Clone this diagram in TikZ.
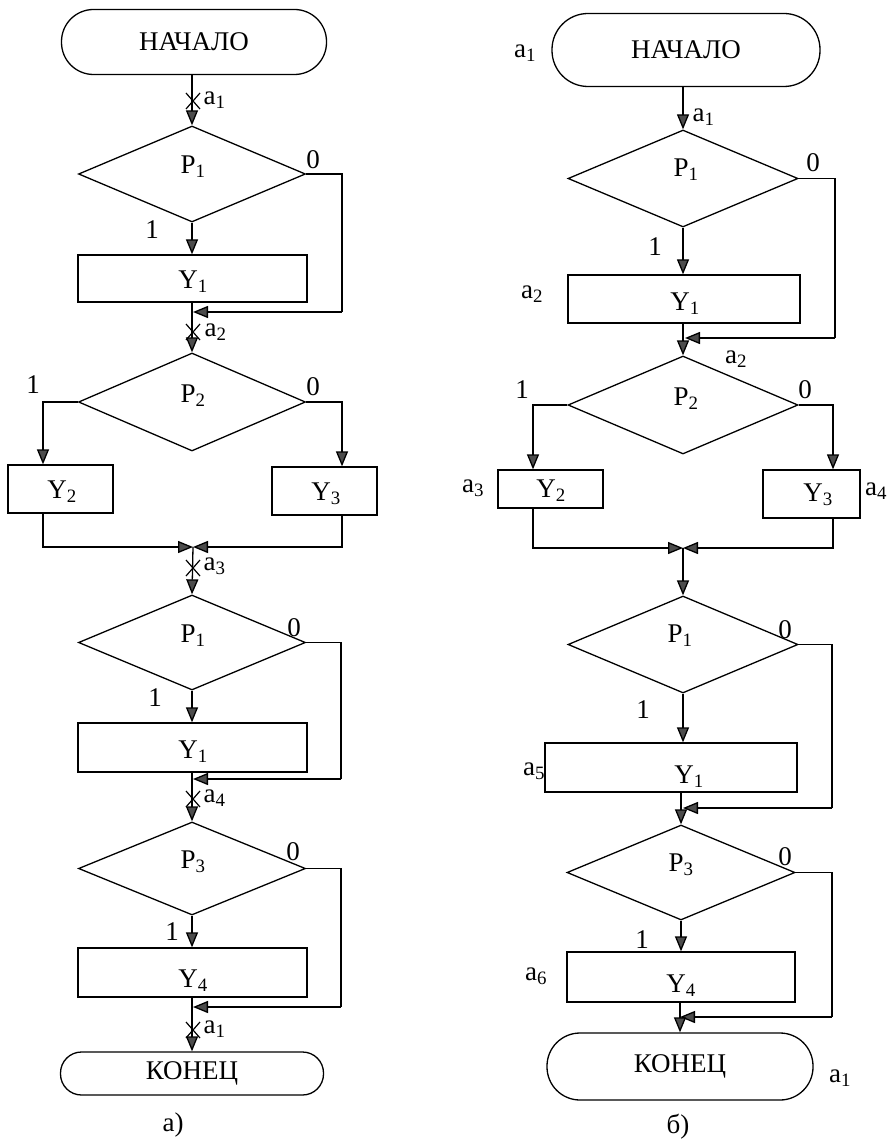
\documentclass[tikz,border=0pt]{standalone}
\usepackage{fontspec}
\setmainfont{Liberation Serif}
\usetikzlibrary{arrows.meta,shapes.geometric,calc}
\newcommand\lsub[1]{\textsubscript{#1}}
\begin{document}
\begin{tikzpicture}[x=1pt,y=-1pt,line width=1.3pt,
  every node/.style={font=\fontsize{27}{30}\selectfont},
  term/.style={draw,rectangle,rounded corners=#1,inner sep=0pt},
  blk/.style={draw,rectangle,inner sep=0pt},
  dia/.style={draw,diamond,inner sep=0pt},
  lbl/.style={inner sep=0pt},
  mk/.style={inner sep=0pt,anchor=west},
  arr/.style={-{Triangle[length=15pt,width=12pt,fill=black!70]}},
  xmark/.pic={\draw[line width=1.2pt] (-7,-8)--(7,8) (-7,8)--(7,-8);}]
\useasboundingbox (0,0) rectangle (890,1139);

% ---------------- left chart (a) ----------------
\node[term=32pt,minimum width=265pt,minimum height=65pt] (sL) at (194,42) {НАЧАЛО};
\node[dia,minimum width=227pt,minimum height=96pt] (pL1) at (192,174) {};
\node[blk,minimum width=229pt,minimum height=47pt] (yL1) at (192.5,278.5) {};
\node[dia,minimum width=227pt,minimum height=98pt] (pL2) at (192,402) {};
\node[blk,minimum width=105pt,minimum height=48pt] (yL2) at (60.5,489) {};
\node[blk,minimum width=105pt,minimum height=48pt] (yL3) at (324.5,491) {};
\node[dia,minimum width=227pt,minimum height=95pt] (pL3) at (192,642.5) {};
\node[blk,minimum width=229pt,minimum height=49pt] (yL4) at (192.5,747.5) {};
\node[dia,minimum width=227pt,minimum height=93pt] (pL4) at (192,868.5) {};
\node[blk,minimum width=229pt,minimum height=49pt] (yL5) at (192.5,972.5) {};
\node[term=21pt,minimum width=263pt,minimum height=43pt] (eL) at (192,1073.5) {КОНЕЦ};

\node[lbl] (tpL1) at (193,167) {P\lsub{1}};
\node[lbl] (tpL2) at (193,396) {P\lsub{2}};
\node[lbl] (tpL3) at (193,636) {P\lsub{1}};
\node[lbl] (tpL4) at (193,862) {P\lsub{3}};
\node[lbl] (tyL1) at (193,282) {Y\lsub{1}};
\node[lbl] (tyL2) at (62,492) {Y\lsub{2}};
\node[lbl] (tyL3) at (326,494) {Y\lsub{3}};
\node[lbl] (tyL4) at (193,752) {Y\lsub{1}};
\node[lbl] (tyL5) at (193,981) {Y\lsub{4}};

\node[lbl] (zL1) at (313,160) {0};
\node[lbl] (oL1) at (152,230) {1};
\node[lbl] (oL2) at (33,385) {1};
\node[lbl] (zL2) at (313,387) {0};
\node[lbl] (zL3) at (294,628) {0};
\node[lbl] (oL3) at (155,698) {1};
\node[lbl] (zL4) at (293,852) {0};
\node[lbl] (oL4) at (172,932) {1};
\node[lbl] (capL) at (173,1125) {а)};

\coordinate (jL1) at (193,312);
\coordinate (cL1) at (342,312);
\coordinate (kL) at (43,0);
\coordinate (mL) at (193,547);
\coordinate (jL3) at (193,779);
\coordinate (cL3) at (341,779);
\coordinate (jL4) at (193,1007);
\coordinate (cL4) at (341,1007);

\draw[arr] (sL.south -| pL1.north) -- (pL1.north);
\draw[arr] (pL1.south) -- (yL1.north -| pL1.south);
\draw (pL1.east) -| (cL1);
\draw[arr] (cL1) -- (jL1);
\draw[arr] (yL1.south -| pL2.north) -- (pL2.north);
\draw[arr] (pL2.west) -| (yL2.north -| kL);
\draw[arr] (pL2.east) -| (yL3.north -| cL1);
\draw[arr] (yL2.south -| kL) |- (mL);
\draw[arr] (yL3.south -| cL1) |- (mL);
\draw[arr] (mL) -- (pL3.north);
\draw[arr] (pL3.south) -- (yL4.north -| pL3.south);
\draw (pL3.east) -| (cL3);
\draw[arr] (cL3) -- (jL3);
\draw[arr] (yL4.south -| pL4.north) -- (pL4.north);
\draw[arr] (pL4.south) -- (yL5.north -| pL4.south);
\draw (pL4.east) -| (cL4);
\draw[arr] (cL4) -- (jL4);
\draw[arr] (yL5.south -| eL.north) -- (eL.north);

\pic at (193,101) {xmark};
\pic at (193,332) {xmark};
\pic at (193,568) {xmark};
\pic at (193,799) {xmark};
\pic at (193,1030) {xmark};
\node[mk] (aL1) at (203,100) {a\lsub{1}};
\node[mk] (aL2) at (204,332) {a\lsub{2}};
\node[mk] (aL3) at (203,566) {a\lsub{3}};
\node[mk] (aL4) at (203,798) {a\lsub{4}};
\node[mk] (aL5) at (203,1029) {a\lsub{1}};

% ---------------- right chart (b) ----------------
\node[term=36pt,minimum width=268pt,minimum height=73pt] (sR) at (686,50) {НАЧАЛО};
\node[dia,minimum width=230pt,minimum height=97pt] (pR1) at (683,178.5) {};
\node[blk,minimum width=232pt,minimum height=48pt] (yR1) at (684,299) {};
\node[dia,minimum width=230pt,minimum height=98pt] (pR2) at (683,405) {};
\node[blk,minimum width=105pt,minimum height=38pt] (yR2) at (550.5,489) {};
\node[blk,minimum width=97pt,minimum height=48pt] (yR3) at (811.5,494) {};
\node[dia,minimum width=230pt,minimum height=97pt] (pR3) at (683,644.5) {};
\node[blk,minimum width=252pt,minimum height=49pt] (yR4) at (671,767.5) {};
\node[dia,minimum width=228pt,minimum height=95pt] (pR4) at (681,872.5) {};
\node[blk,minimum width=228pt,minimum height=50pt] (yR5) at (681,977) {};
\node[term=33pt,minimum width=266pt,minimum height=67pt] (eR) at (680,1066.5) {КОНЕЦ};

\node[lbl] (tpR1) at (686,170) {P\lsub{1}};
\node[lbl] (tpR2) at (686,399) {P\lsub{2}};
\node[lbl] (tpR3) at (680,636) {P\lsub{1}};
\node[lbl] (tpR4) at (681,865) {P\lsub{3}};
\node[lbl] (tyR1) at (685,304) {Y\lsub{1}};
\node[lbl] (tyR2) at (551,491) {Y\lsub{2}};
\node[lbl] (tyR3) at (818,495) {Y\lsub{3}};
\node[lbl] (tyR4) at (689,777) {Y\lsub{1}};
\node[lbl] (tyR5) at (681,986) {Y\lsub{4}};

\node[lbl] (zR1) at (813,163) {0};
\node[lbl] (oR1) at (655,247) {1};
\node[lbl] (oR2) at (522,390) {1};
\node[lbl] (zR2) at (805,390) {0};
\node[lbl] (zR3) at (785,630) {0};
\node[lbl] (oR3) at (643,710) {1};
\node[lbl] (zR4) at (785,857) {0};
\node[lbl] (oR4) at (642,940) {1};
\node[lbl] (capR) at (678,1127) {б)};

\node[lbl] (qR0) at (525,53) {a\lsub{1}};
\node[mk] (qR1) at (692,117) {a\lsub{1}};
\node[lbl] (qR2) at (532,294) {a\lsub{2}};
\node[lbl] (qR2b) at (736,359) {a\lsub{2}};
\node[lbl] (qR3) at (473,488) {a\lsub{3}};
\node[lbl] (qR4) at (876,491) {a\lsub{4}};
\node[lbl] (qR5) at (534,771) {a\lsub{5}};
\node[lbl] (qR6) at (536,976) {a\lsub{6}};
\node[lbl] (qR7) at (840,1078) {a\lsub{1}};

\coordinate (jR1) at (685,338);
\coordinate (cR1) at (835,338);
\coordinate (kR) at (533,0);
\coordinate (nR) at (833,0);
\coordinate (mR) at (683,548);
\coordinate (jR3) at (683,808);
\coordinate (cR3) at (832,808);
\coordinate (jR4) at (680,1017);
\coordinate (cR4) at (832,1017);

\draw[arr] (sR.south -| pR1.north) -- (pR1.north);
\draw[arr] (pR1.south) -- (yR1.north -| pR1.south);
\draw (pR1.east) -| (cR1);
\draw[arr] (cR1) -- (jR1);
\draw[arr] (yR1.south -| pR2.north) -- (pR2.north);
\draw[arr] (pR2.west) -| (yR2.north -| kR);
\draw[arr] (pR2.east) -| (yR3.north -| nR);
\draw[arr] (yR2.south -| kR) |- (mR);
\draw[arr] (yR3.south -| nR) |- (mR);
\draw[arr] (mR) -- (pR3.north);
\draw[arr] (pR3.south) -- (yR4.north -| pR3.south);
\draw (pR3.east) -| (cR3);
\draw[arr] (cR3) -- (jR3);
\draw[arr] (yR4.south -| pR4.north) -- (pR4.north);
\draw[arr] (pR4.south) -- (yR5.north -| pR4.south);
\draw (pR4.east) -| (cR4);
\draw[arr] (cR4) -- (jR4);
\draw[arr] (yR5.south -| eR.north) -- (eR.north);
\end{tikzpicture}
\end{document}
